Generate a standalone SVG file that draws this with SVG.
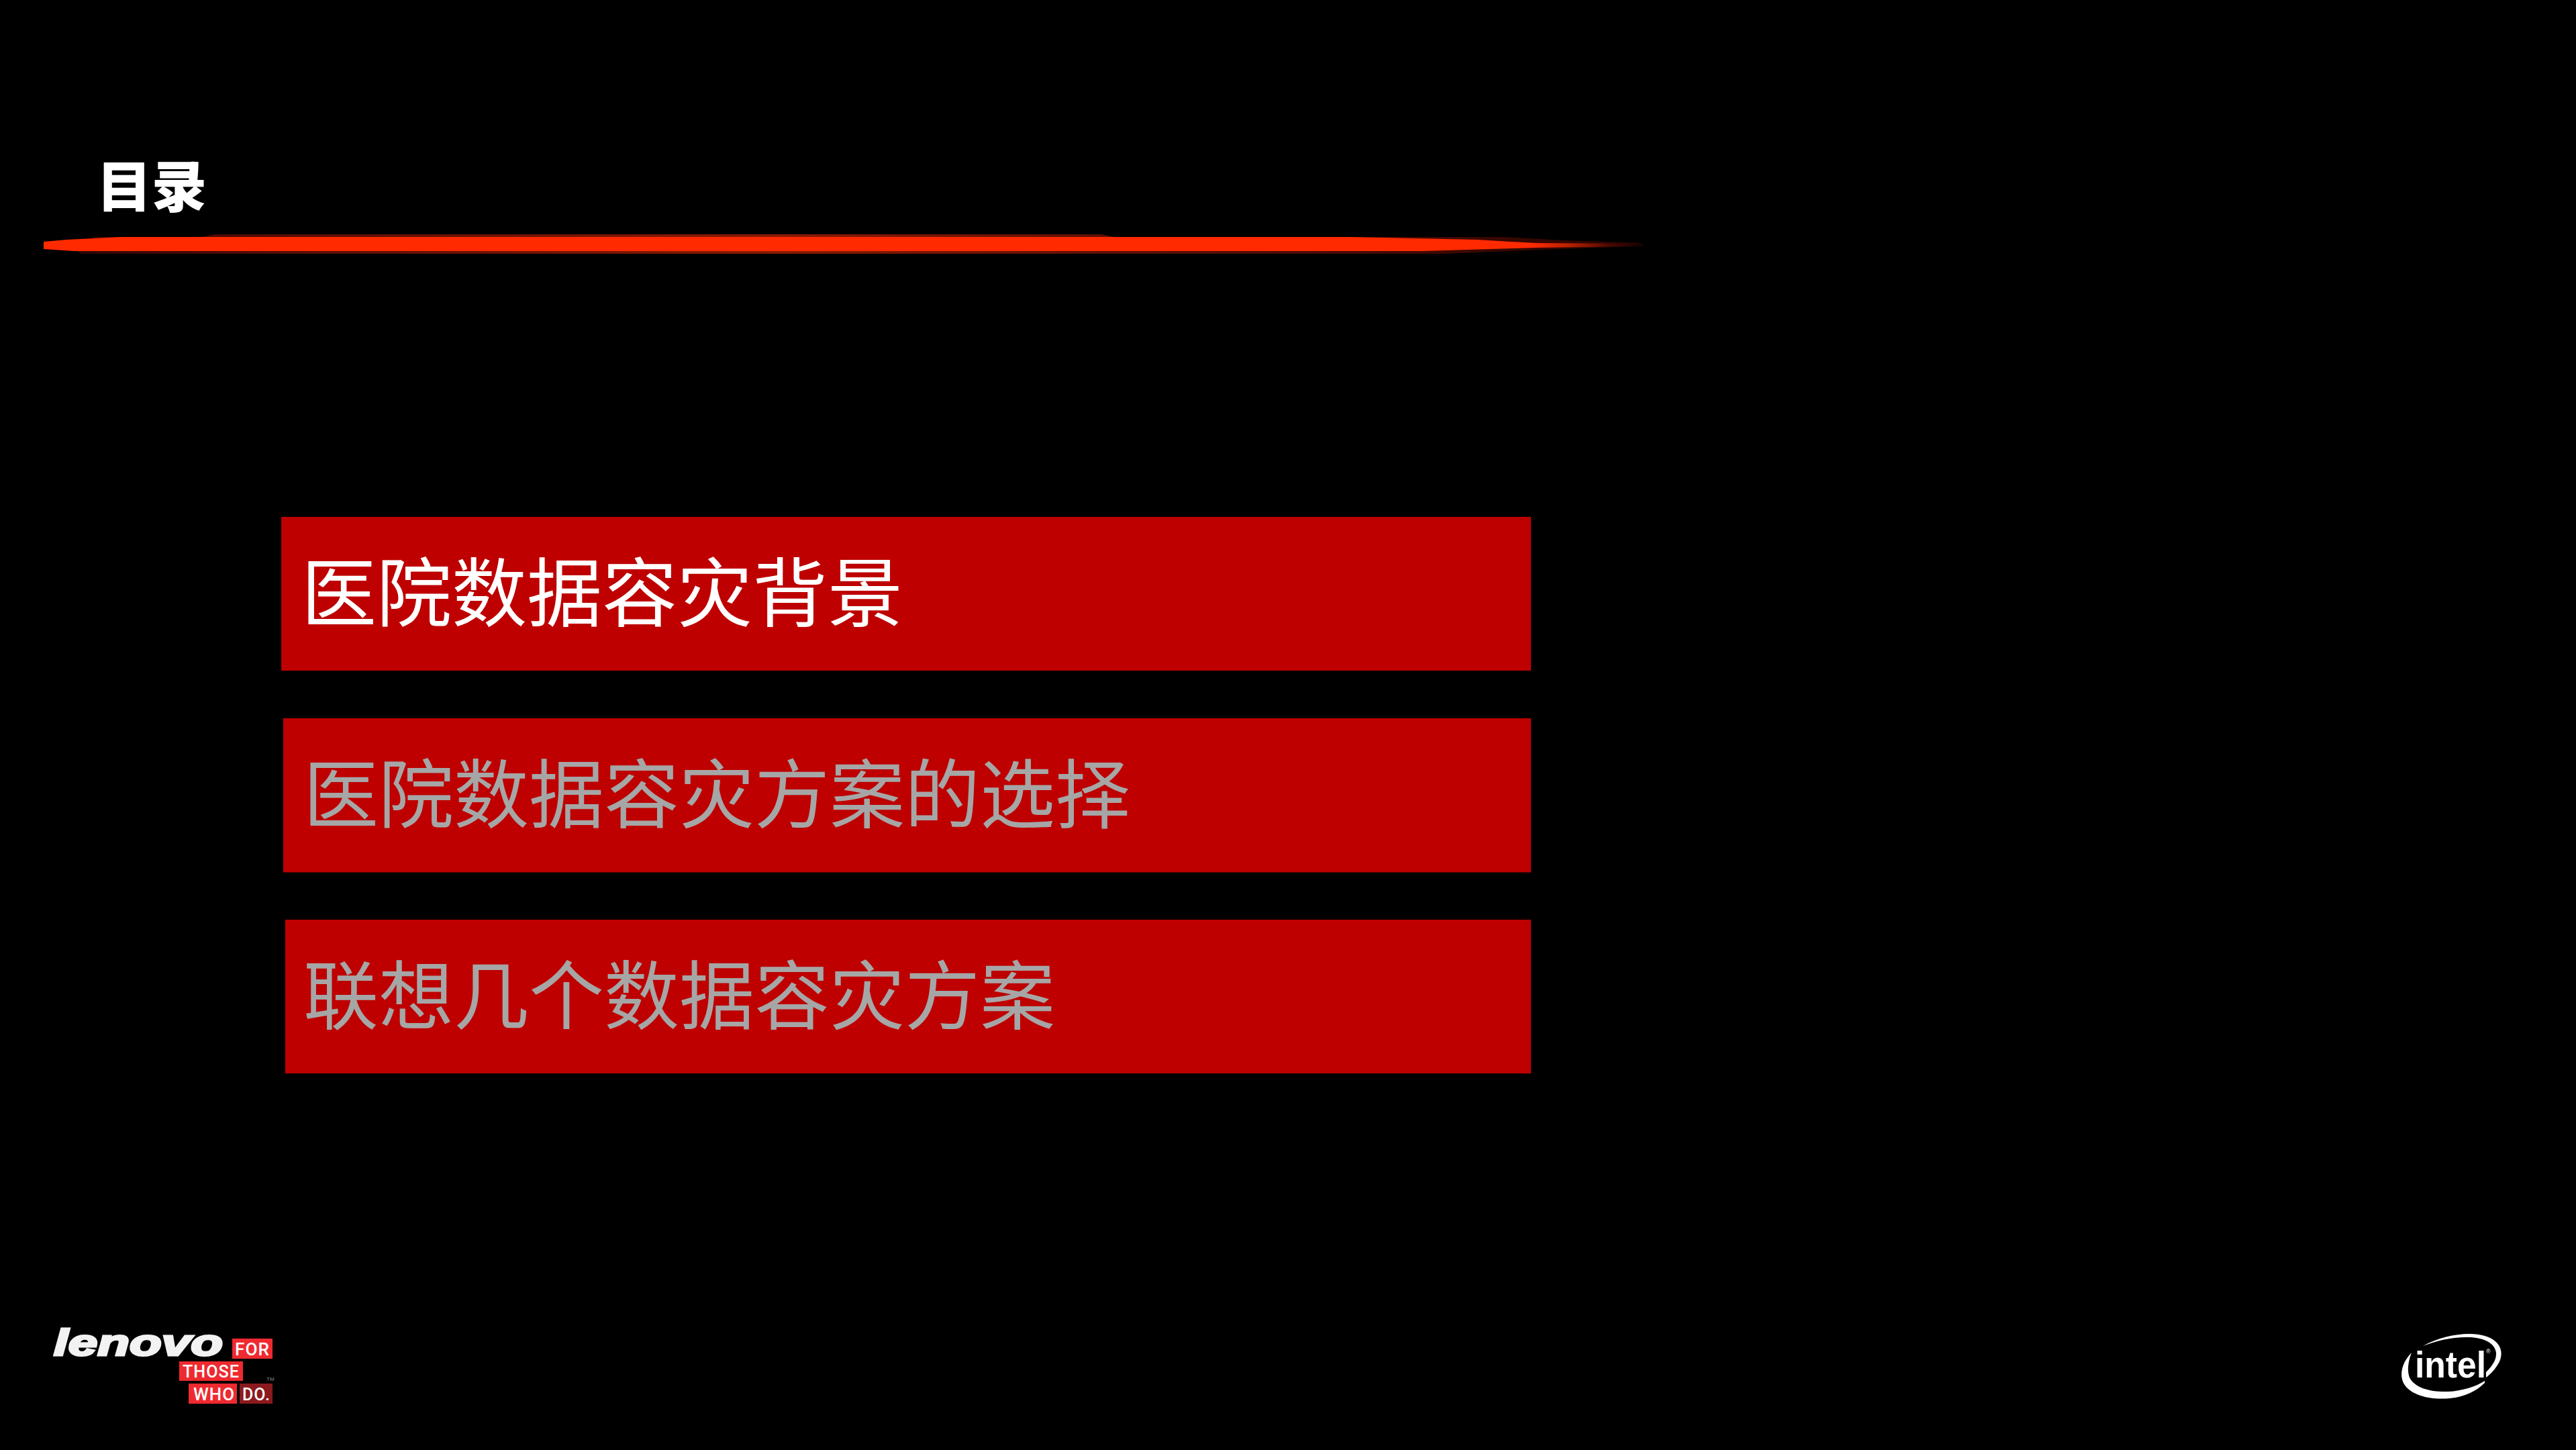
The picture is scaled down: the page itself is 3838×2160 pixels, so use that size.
<svg xmlns="http://www.w3.org/2000/svg" width="3838" height="2160" viewBox="0 0 3838 2160">
<style>
.cjk{font-family:"Noto Sans CJK SC","Noto Sans",sans-serif}
.item{font-size:112px}
.w{fill:#fff}
.g{fill:#a6a6a6}
.box{fill:#be0000}
.lb{font-family:"Roboto","Liberation Sans",sans-serif;font-weight:500;font-size:26px;fill:#fff;letter-spacing:1px}
.rb{fill:#ee2a30}
</style>
<defs>
<linearGradient id="halo" x1="0" x2="1" y1="0" y2="0">
<stop offset="0" stop-color="#300500"/><stop offset="0.15" stop-color="#5c0e00"/><stop offset="0.45" stop-color="#8c1a00"/><stop offset="0.65" stop-color="#601000"/><stop offset="1" stop-color="#2a0400"/>
</linearGradient>
<linearGradient id="tip" x1="0" x2="1" y1="0" y2="0">
<stop offset="0" stop-color="#ff2a00"/><stop offset="0.35" stop-color="#b82000"/><stop offset="0.7" stop-color="#4a0800"/><stop offset="1" stop-color="#100100"/>
</linearGradient>
</defs>
<rect width="3838" height="2160" fill="#000"/>
<g id="title"><text class="cjk w" x="144" y="308" font-size="82" font-weight="900">目录</text></g>
<g id="streak">
<path fill="url(#halo)" d="M115 374L140 353L300 353L320 349L1640 349L1660 353L2240 353L2330 358L2444 362L2450 366L2300 372L2150 378L120 378Z"/>
<path fill="#ff2a00" d="M65 360L100 357L180 353L2012 353L2200 357L2250 360L2290 362L2290 369L2120 374L110 374L65 371Z"/>
<path fill="url(#tip)" d="M2280 362L2444 363L2448 367L2280 369Z"/>
</g>
<g id="item1"><rect class="box" x="419" y="770" width="1862" height="229"/><text class="cjk item w" x="449" y="925">医院数据容灾背景</text></g>
<g id="item2"><rect class="box" x="422" y="1070" width="1859" height="229.500"/><text class="cjk item g" x="452" y="1225">医院数据容灾方案的选择</text></g>
<g id="item3"><rect class="box" x="425" y="1370" width="1856" height="229"/><text class="cjk item g" x="452" y="1525">联想几个数据容灾方案</text></g>
<g id="lenovo-logo">
<text x="80" y="2019" font-family="Liberation Sans,sans-serif" font-size="56" font-weight="700" font-style="italic" fill="#f2f2f2" textLength="252" lengthAdjust="spacingAndGlyphs" stroke="#f2f2f2" stroke-width="3">lenovo</text>
<rect class="rb" x="346" y="1994" width="60" height="30"/>
<rect class="rb" x="267" y="2028" width="95" height="29"/>
<rect class="rb" x="281" y="2061" width="72" height="30"/>
<rect fill="#8b1a1e" x="357" y="2061" width="49" height="30"/>
<text class="lb" x="350" y="2019" textLength="52" lengthAdjust="spacingAndGlyphs">FOR</text>
<text class="lb" x="272" y="2052" textLength="85" lengthAdjust="spacingAndGlyphs">THOSE</text>
<text class="lb" x="288" y="2086" textLength="62" lengthAdjust="spacingAndGlyphs">WHO</text>
<text class="lb" x="361" y="2086" textLength="42" lengthAdjust="spacingAndGlyphs" fill="#e0d0d0">DO.</text>
<text x="397" y="2057" font-family="Liberation Sans,sans-serif" font-size="8" fill="#888">TM</text>
</g>
<g id="intel-logo">
<path fill="#fff" d="M3610 2005C3640 1988 3680 1983 3702 1990C3726 1997 3732 2015 3722 2032C3716 2042 3708 2049 3704 2052L3704 2044C3712 2036 3720 2026 3719 2015C3717 2000 3700 1993 3680 1992C3655 1991 3630 1997 3610 2005Z"/>
<path fill="#fff" d="M3593 2015C3580 2028 3575 2045 3580 2058C3588 2078 3620 2086 3650 2083C3672 2081 3690 2072 3702 2060L3702 2057C3688 2066 3668 2072 3648 2073C3622 2074 3598 2068 3590 2052C3586 2042 3588 2028 3593 2015Z"/>
<text x="3598" y="2052" font-family="Liberation Sans,sans-serif" font-size="56" font-weight="700" fill="#fff" textLength="106" lengthAdjust="spacingAndGlyphs">intel</text>
<text x="3704" y="2016" font-family="Liberation Sans,sans-serif" font-size="9" fill="#fff">®</text>
</g>
</svg>
